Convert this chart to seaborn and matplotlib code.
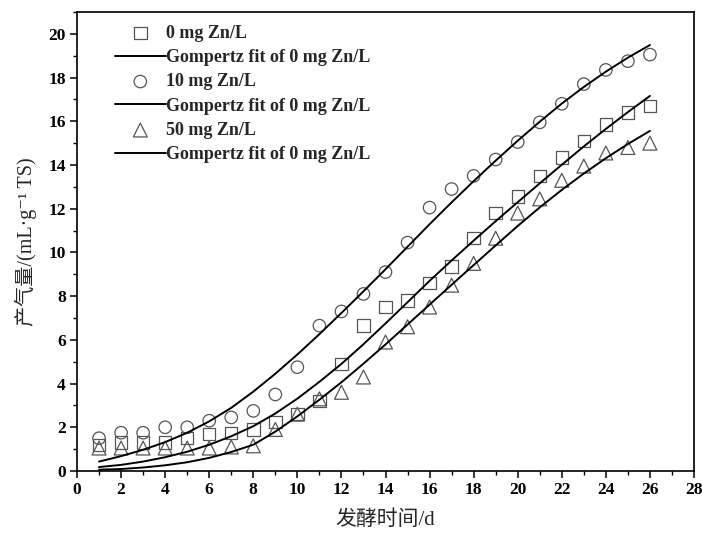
import numpy as np
import pandas as pd
import matplotlib.pyplot as plt
import seaborn as sns
from matplotlib.ticker import MultipleLocator

# fermentation days
days = list(range(1, 27))

# measured gas yield (mL/g TS)
zn0 = [1.2, 1.3, 1.3, 1.3, 1.5, 1.7, 1.75, 1.9, 2.25, 2.6, 3.2, 4.9, 6.65,
       7.5, 7.8, 8.6, 9.35, 10.65, 11.8, 12.55, 13.5, 14.35, 15.1, 15.85,
       16.4, 16.7]
zn10 = [1.5, 1.75, 1.75, 2.0, 2.0, 2.3, 2.45, 2.75, 3.5, 4.75, 6.65, 7.3,
        8.1, 9.1, 10.45, 12.05, 12.9, 13.5, 14.25, 15.05, 15.95, 16.8, 17.7,
        18.35, 18.75, 19.05]
zn50 = [1.05, 1.05, 1.05, 1.05, 1.05, 1.05, 1.1, 1.15, 1.9, 2.6, 3.3, 3.6,
        4.3, 5.9, 6.6, 7.5, 8.5, 9.5, 10.65, 11.8, 12.45, 13.3, 13.95, 14.55,
        14.8, 15.0]

# fitted curves
fit0 = [0.18, 0.28, 0.43, 0.63, 0.88, 1.2, 1.59, 2.05, 2.63, 3.31, 4.08, 4.9,
        5.8, 6.75, 7.72, 8.7, 9.63, 10.54, 11.43, 12.3, 13.16, 14.01, 14.85,
        15.65, 16.42, 17.16]
fit10 = [0.43, 0.68, 0.97, 1.32, 1.75, 2.27, 2.89, 3.63, 4.45, 5.33, 6.26,
         7.23, 8.22, 9.23, 10.26, 11.29, 12.29, 13.26, 14.2, 15.11, 15.98,
         16.81, 17.57, 18.27, 18.91, 19.49]
fit50 = [0.06, 0.09, 0.16, 0.26, 0.4, 0.6, 0.87, 1.2, 1.8, 2.5, 3.26, 4.06,
         4.91, 5.79, 6.7, 7.61, 8.52, 9.42, 10.32, 11.21, 12.06, 12.86, 13.61,
         14.31, 14.96, 15.56]

labels = ['0 mg Zn/L', '10 mg Zn/L', '50 mg Zn/L']
fit_label = 'Gompertz fit of 0 mg Zn/L'
markers = ['s', 'o', '^']

sns.set_theme(style='ticks')
plt.rcParams['font.family'] = ['Liberation Serif', 'Noto Sans CJK SC', 'DejaVu Sans']
plt.rcParams['axes.unicode_minus'] = False

fig = plt.figure(figsize=(7.02, 5.4), dpi=100)
ax = fig.add_axes([0.1097, 0.1278, 0.8789, 0.85])

for lab, mk, obs, fit in zip(labels, markers, [zn0, zn10, zn50], [fit0, fit10, fit50]):
    df = pd.DataFrame({'day': days, 'obs': obs, 'fit': fit})
    sns.scatterplot(data=df, x='day', y='obs', marker=mk, s=80 if mk != '^' else 100,
                    facecolor='none', edgecolor='#555555', linewidth=0.9,
                    label=lab, ax=ax, zorder=3)
    sns.lineplot(data=df, x='day', y='fit', color='black', linewidth=1.4,
                 label=fit_label, ax=ax, zorder=4)

ax.set_xlim(0, 28)
ax.set_ylim(0, 21)
ax.xaxis.set_major_locator(MultipleLocator(2))
ax.xaxis.set_minor_locator(MultipleLocator(1))
ax.yaxis.set_major_locator(MultipleLocator(2))
ax.yaxis.set_minor_locator(MultipleLocator(1))
ax.tick_params(which='major', direction='out', length=5, width=1.1, colors='black',
               labelsize=12.5, pad=3)
ax.tick_params(which='minor', direction='out', length=3, width=1.0, colors='black')
for lbl in ax.get_xticklabels() + ax.get_yticklabels():
    lbl.set_fontweight('bold')
for sp in ax.spines.values():
    sp.set_visible(True)
    sp.set_linewidth(1.2)
    sp.set_color('black')

ax.set_xlabel('发酵时间/d', fontsize=15, labelpad=9)
ax.set_ylabel('产气量/(mL·g⁻¹ TS)', fontsize=14.5, labelpad=8)

handles, hl = ax.get_legend_handles_labels()
leg = ax.legend(handles, hl, loc='upper left', bbox_to_anchor=(0.0616, 0.972),
                frameon=False, prop={'weight': 'bold', 'size': 13},
                handlelength=2.8, handletextpad=0.05, labelspacing=0.4,
                borderpad=0, borderaxespad=0)

fig.savefig('out.png', dpi=100)
